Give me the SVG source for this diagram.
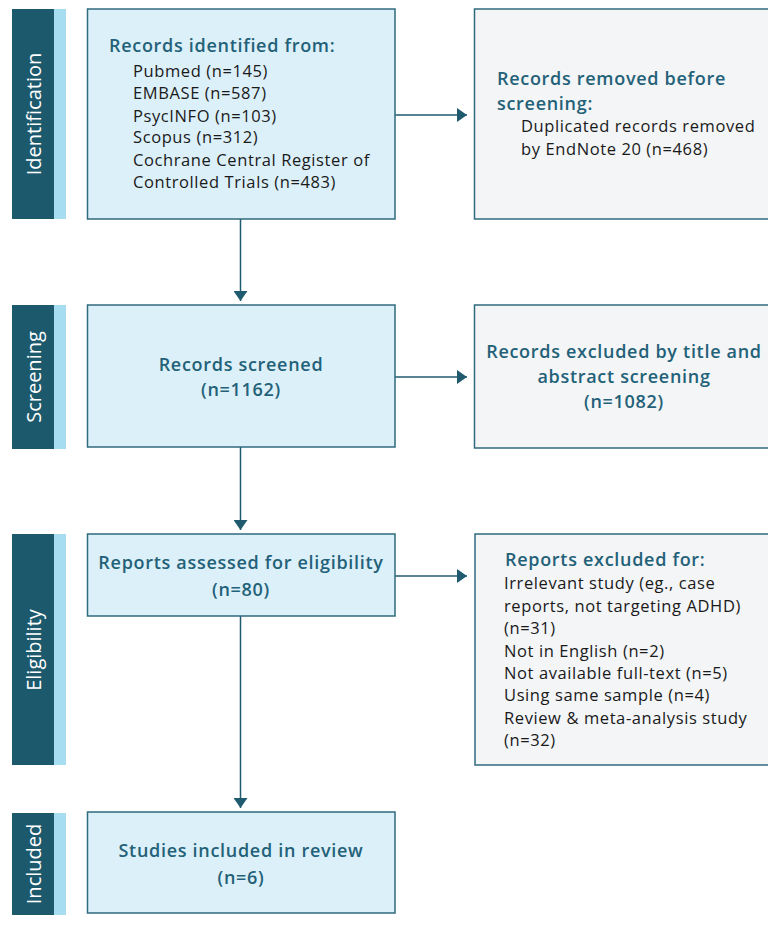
<svg xmlns="http://www.w3.org/2000/svg" width="768" height="944" viewBox="0 0 768 944">
<style>
.band{fill:#1c596d}
.bandl{fill:#a7ddf0}
.bl{font-family:"Open Sans",Lato,sans-serif;font-size:20px;fill:#ffffff;text-anchor:middle}
.main{fill:#dcf0f9;stroke:#2f6a7e;stroke-width:1.5}
.side{fill:#f3f5f7;stroke:#2f6a7e;stroke-width:1.5}
.t{font-family:"Open Sans",Lato,sans-serif;font-size:18px;font-weight:600;fill:#236178;letter-spacing:0.7px}
.tc{text-anchor:middle}
.b{font-family:"Open Sans",Lato,sans-serif;font-size:16.5px;fill:#1a1a1a;letter-spacing:0.6px}
.c{stroke:#1f5a6e;stroke-width:1.5;fill:none}
</style>
<defs>
<marker id="ah" markerWidth="10" markerHeight="14" refX="10" refY="7" orient="auto" markerUnits="userSpaceOnUse">
<path d="M0,0 L10,7 L0,14 Z" fill="#1f5a6e"/>
</marker>
</defs>
<g id="band-identification">
<rect class="band" x="12" y="9" width="42" height="210"/>
<rect class="bandl" x="54" y="9" width="12" height="210"/>
<text class="bl" transform="translate(41,114) rotate(-90)">Identification</text>
</g>
<g id="band-screening">
<rect class="band" x="12" y="305" width="42" height="144"/>
<rect class="bandl" x="54" y="305" width="12" height="144"/>
<text class="bl" transform="translate(41,377) rotate(-90)">Screening</text>
</g>
<g id="band-eligibility">
<rect class="band" x="12" y="534" width="42" height="231"/>
<rect class="bandl" x="54" y="534" width="12" height="231"/>
<text class="bl" transform="translate(41,650) rotate(-90)">Eligibility</text>
</g>
<g id="band-included">
<rect class="band" x="12" y="813" width="42" height="102"/>
<rect class="bandl" x="54" y="813" width="12" height="102"/>
<text class="bl" transform="translate(41,864) rotate(-90)">Included</text>
</g>
<g id="connectors">
<line class="c" x1="240.5" y1="219" x2="240.5" y2="301" marker-end="url(#ah)"/>
<line class="c" x1="240.5" y1="447" x2="240.5" y2="530" marker-end="url(#ah)"/>
<line class="c" x1="240.5" y1="616" x2="240.5" y2="808" marker-end="url(#ah)"/>
<line class="c" x1="395" y1="115" x2="467" y2="115" marker-end="url(#ah)"/>
<line class="c" x1="395" y1="377" x2="467" y2="377" marker-end="url(#ah)"/>
<line class="c" x1="395" y1="576" x2="467" y2="576" marker-end="url(#ah)"/>
</g>
<g id="node-identified">
<rect class="main" x="87.5" y="9" width="307.5" height="210"/>
<text class="t" x="109" y="52">Records identified from:</text>
<text class="b" x="133" y="77">Pubmed (n=145)</text>
<text class="b" x="133" y="99">EMBASE (n=587)</text>
<text class="b" x="133" y="122">PsycINFO (n=103)</text>
<text class="b" x="133" y="143">Scopus (n=312)</text>
<text class="b" x="133" y="166">Cochrane Central Register of</text>
<text class="b" x="133" y="188">Controlled Trials (n=483)</text>
</g>
<g id="node-removed">
<rect class="side" x="474.5" y="9" width="300" height="210"/>
<text class="t" x="497" y="85">Records removed before</text>
<text class="t" x="497" y="110">screening:</text>
<text class="b" x="521" y="132">Duplicated records removed</text>
<text class="b" x="521" y="155">by EndNote 20 (n=468)</text>
</g>
<g id="node-screened">
<rect class="main" x="87.5" y="305" width="307.5" height="142"/>
<text class="t tc" x="241" y="371">Records screened</text>
<text class="t tc" x="241" y="396">(n=1162)</text>
</g>
<g id="node-excluded-title">
<rect class="side" x="474.5" y="305" width="300" height="143"/>
<text class="t tc" x="624" y="358">Records excluded by title and</text>
<text class="t tc" x="624" y="383">abstract screening</text>
<text class="t tc" x="624" y="408">(n=1082)</text>
</g>
<g id="node-assessed">
<rect class="main" x="87.5" y="534" width="307.5" height="82"/>
<text class="t tc" x="241" y="569">Reports assessed for eligibility</text>
<text class="t tc" x="241" y="596">(n=80)</text>
</g>
<g id="node-excluded-reports">
<rect class="side" x="475" y="534" width="300" height="231"/>
<text class="t" x="505" y="566">Reports excluded for:</text>
<text class="b" x="504" y="589">Irrelevant study (eg., case</text>
<text class="b" x="504" y="612">reports, not targeting ADHD)</text>
<text class="b" x="504" y="634">(n=31)</text>
<text class="b" x="504" y="657">Not in English (n=2)</text>
<text class="b" x="504" y="679">Not available full-text (n=5)</text>
<text class="b" x="504" y="701">Using same sample (n=4)</text>
<text class="b" x="504" y="724">Review &amp; meta-analysis study</text>
<text class="b" x="504" y="746">(n=32)</text>
</g>
<g id="node-included">
<rect class="main" x="87.5" y="812" width="307.5" height="101"/>
<text class="t tc" x="241" y="857">Studies included in review</text>
<text class="t tc" x="241" y="884">(n=6)</text>
</g>
</svg>
